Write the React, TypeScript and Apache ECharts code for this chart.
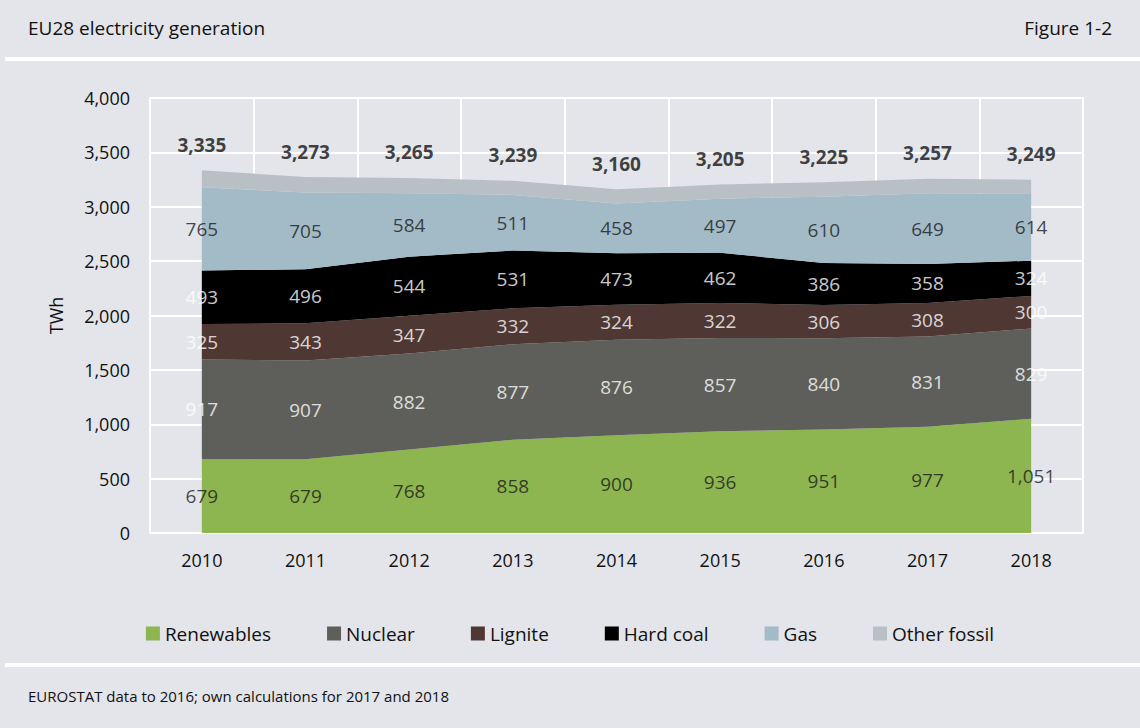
import React, { useEffect, useRef } from "react";
import * as echarts from "echarts";

const years = ["2010", "2011", "2012", "2013", "2014", "2015", "2016", "2017", "2018"];
const renewables = [679, 679, 768, 858, 900, 936, 951, 977, 1051];
const nuclear = [917, 907, 882, 877, 876, 857, 840, 831, 829];
const lignite = [325, 343, 347, 332, 324, 322, 306, 308, 300];
const hardCoal = [493, 496, 544, 531, 473, 462, 386, 358, 324];
const gas = [765, 705, 584, 511, 458, 497, 610, 649, 614];
const otherFossil = [156, 143, 140, 130, 129, 131, 132, 134, 131];
const totals = [3335, 3273, 3265, 3239, 3160, 3205, 3225, 3257, 3249];

const FONT = "Open Sans";
const BG = "#e3e5ea";

export default function App() {
  const ref = useRef<HTMLDivElement>(null);
  useEffect(() => {
    const chart = echarts.init(ref.current!, null, { renderer: "svg" });
    const defs = [
      { name: "Renewables", data: renewables, color: "#8db550", label: "#1a1a1a" },
      { name: "Nuclear", data: nuclear, color: "#5e5f5a", label: "#ffffff" },
      { name: "Lignite", data: lignite, color: "#4f3833", label: "#ffffff" },
      { name: "Hard coal", data: hardCoal, color: "#000000", label: "#ffffff" },
      { name: "Gas", data: gas, color: "#a3bac7", label: "#1a1a1a" },
      { name: "Other fossil", data: otherFossil, color: "#b9c0c5", label: "#1a1a1a" },
    ];
    const base = years.map(() => 0);
    const areaSeries: any[] = [];
    const labelSeries: any[] = [];
    defs.forEach((d, si) => {
      areaSeries.push({
        name: d.name,
        type: "line",
        stack: "total",
        symbol: "none",
        lineStyle: { width: 0 },
        areaStyle: { color: d.color, opacity: 1 },
        itemStyle: { color: d.color },
        data: d.data,
        z: 2,
      });
      if (si < 5) {
        const mids = d.data.map((v, i) => base[i] + v / 2);
        labelSeries.push({
          type: "scatter",
          symbolSize: 0,
          silent: true,
          z: 5,
          data: mids.map((m, i) => ({ value: [i, m], raw: d.data[i] })),
          label: {
            show: true,
            position: "inside",
            color: d.label,
            fontSize: 19,
            fontFamily: FONT,
            formatter: (p: any) => p.data.raw.toLocaleString("en-US"),
          },
        });
      }
      d.data.forEach((v, i) => (base[i] += v));
    });
    labelSeries.push({
      type: "scatter",
      symbolSize: 0,
      silent: true,
      z: 5,
      data: totals.map((t, i) => ({ value: [i, t], raw: t })),
      label: {
        show: true,
        position: "top",
        distance: 16,
        color: "#111",
        fontWeight: "bold",
        fontSize: 19,
        fontFamily: FONT,
        formatter: (p: any) => p.data.raw.toLocaleString("en-US"),
      },
    });
    chart.setOption({
      animation: false,
      backgroundColor: BG,
      textStyle: { fontFamily: FONT },
      graphic: [
        { type: "text", left: 28, top: 18, style: { text: "EU28 electricity generation", fontSize: 19, fontFamily: FONT, fill: "#111" } },
        { type: "text", right: 28, top: 18, style: { text: "Figure 1-2", fontSize: 19, fontFamily: FONT, fill: "#111" } },
        { type: "rect", left: 5, top: 57, shape: { width: 1135, height: 4 }, style: { fill: "#fff" } },
        { type: "rect", left: 5, top: 663, shape: { width: 1135, height: 4 }, style: { fill: "#fff" } },
        { type: "text", left: 28, top: 688, style: { text: "EUROSTAT data to 2016; own calculations for 2017 and 2018", fontSize: 15, fontFamily: FONT, fill: "#111" } },
      ],
      legend: {
        data: defs.map((d) => d.name),
        bottom: 80,
        left: "center",
        icon: "rect",
        itemWidth: 14,
        itemHeight: 14,
        itemGap: 56,
        textStyle: { fontSize: 19, fontFamily: FONT, color: "#111" },
      },
      grid: { left: 150, right: 57, top: 98, bottom: 195, show: true, borderColor: "#fff", borderWidth: 2 },
      xAxis: {
        type: "category",
        data: years,
        boundaryGap: true,
        axisLine: { show: false },
        axisTick: { show: false },
        axisLabel: { fontSize: 18, color: "#111", margin: 18 },
        splitLine: { show: true, lineStyle: { color: "#fff", width: 2 } },
      },
      yAxis: {
        type: "value",
        min: 0,
        max: 4000,
        interval: 500,
        name: "TWh",
        nameLocation: "middle",
        nameGap: 85,
        nameTextStyle: { fontSize: 18, color: "#111" },
        axisLabel: { fontSize: 18, color: "#111", margin: 20, formatter: (v: number) => v.toLocaleString("en-US") },
        splitLine: { lineStyle: { color: "#fff", width: 2 } },
      },
      series: [...areaSeries, ...labelSeries],
    });
    return () => chart.dispose();
  }, []);
  return <div ref={ref} style={{ position: "fixed", left: 0, top: 0, width: 1140, height: 728 }} />;
}
